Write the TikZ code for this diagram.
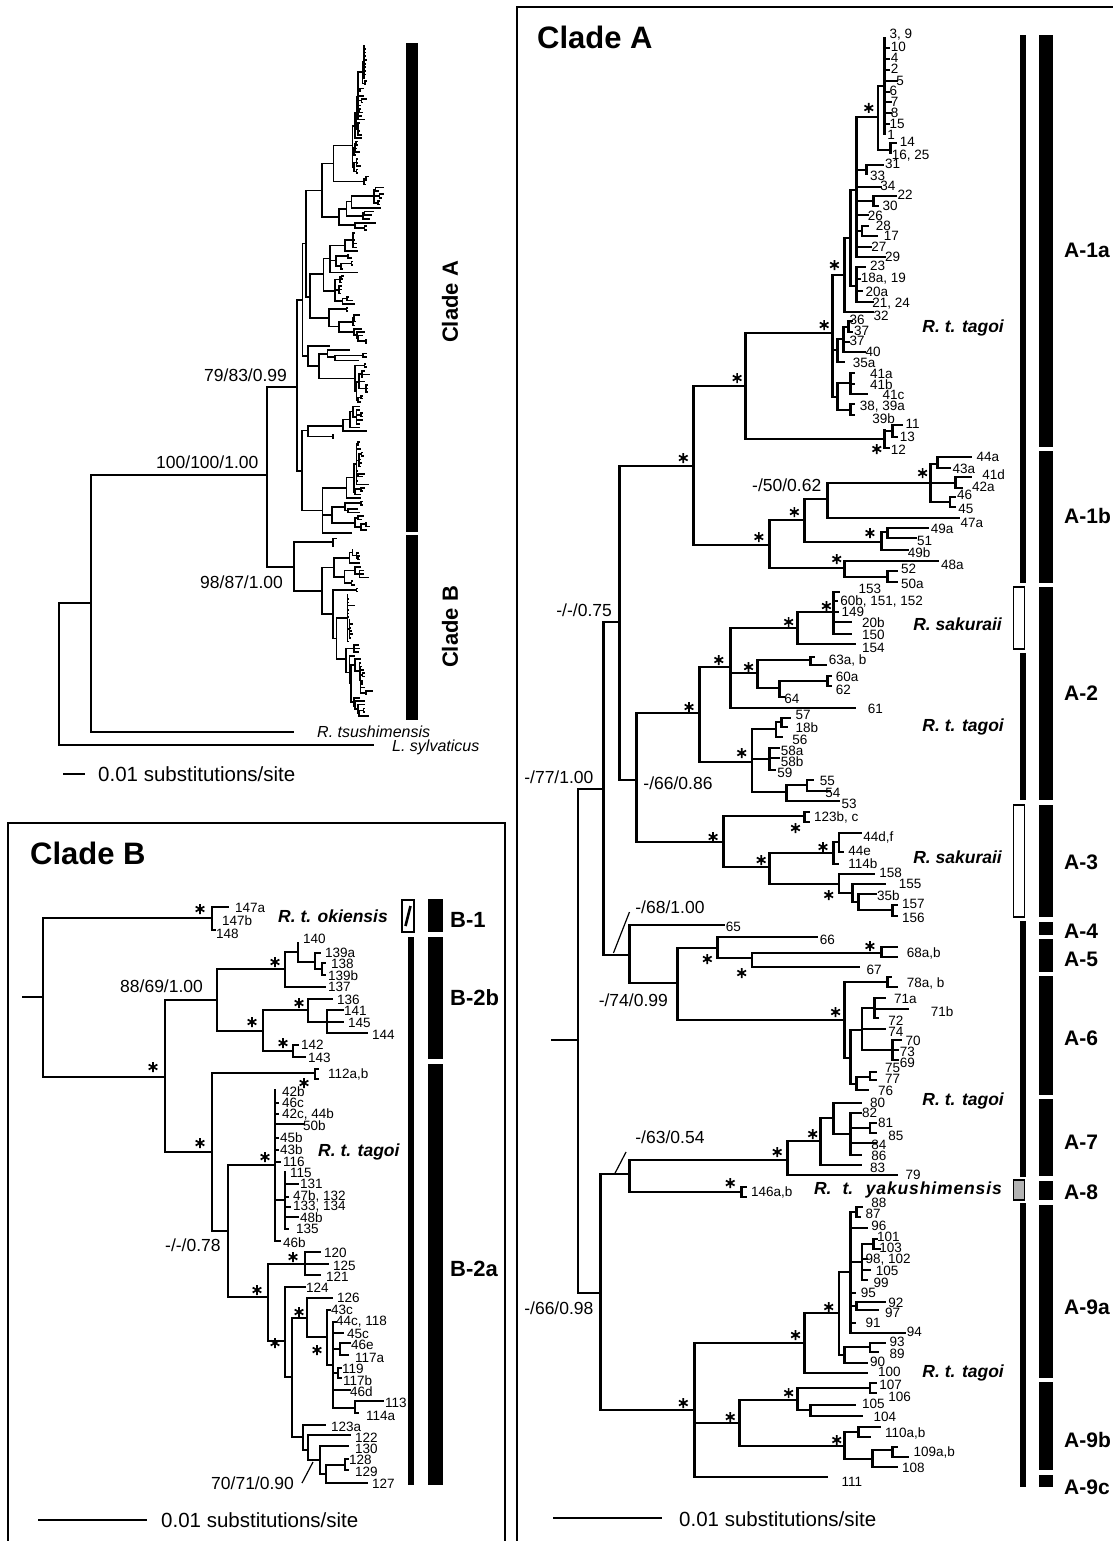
\documentclass[tikz,border=0pt]{standalone}
\usepackage{fontspec}
\setmainfont{Liberation Sans}
\newif\iflbl
\def\sx{1}\def\ox{0}\def\sy{1}\def\oy{0}\def\lw{2.8}
\tikzset{
 tr/.style={line width=\lw pt, line cap=rect},
 lf/.style={anchor=west, inner sep=0pt, font=\fontsize{13.5}{14}\selectfont},
 supp/.style={anchor=west, inner sep=0pt, font=\fontsize{17.5}{18}\selectfont},
 stl/.style={line width=1.7pt},
 spec/.style={font=\bfseries\itshape\fontsize{17.5}{18}\selectfont, inner sep=0pt},
 grp/.style={anchor=west, font=\bfseries\fontsize{21}{22}\selectfont, inner sep=0pt},
 ttl/.style={anchor=west, font=\bfseries\fontsize{31}{32}\selectfont, inner sep=0pt},
 sbar/.style={line width=2.8pt},
 stxt/.style={anchor=west, inner sep=0pt, font=\fontsize{20.5}{21}\selectfont},
 ov/.style={line width=1.6pt, line cap=rect},
 frame/.style={line width=2.5pt}
}
\newcommand\hb[3]{\draw[tr] ({\ox+\sx*(#1)},{\oy+\sy*(#3)}) -- ({\ox+\sx*(#2)},{\oy+\sy*(#3)});}
\newcommand\vb[3]{\draw[tr] ({\ox+\sx*(#1)},{\oy+\sy*(#2)}) -- ({\ox+\sx*(#1)},{\oy+\sy*(#3)});}
\newcommand\lb[3]{\iflbl\node[lf] at ({\ox+\sx*(#1)},{\oy+\sy*(#2)}) {#3};\fi}
\newcommand\su[3]{\iflbl\node[supp] at ({\ox+\sx*(#1)},{\oy+\sy*(#2)}) {#3};\fi}
\newcommand\sr[2]{\iflbl\draw[stl] ({\ox+\sx*(#1)},{\oy+\sy*(#2)}) +(0,-5) -- +(0,5) +(-4.33,-2.5) -- +(4.33,2.5) +(-4.33,2.5) -- +(4.33,-2.5);\fi}
\newcommand\ld[4]{\iflbl\draw[line width=1.2pt] ({\ox+\sx*(#1)},{\oy+\sy*(#2)}) -- ({\ox+\sx*(#3)},{\oy+\sy*(#4)});\fi}

\newcommand\TreeA{%
\iflbl\hb{548}{570}{1040}\fi
\vb{570}{789}{1293}\hb{570}{592}{789}\hb{570}{590}{1293}
\vb{592}{622}{955}\hb{592}{606}{622}\hb{592}{615}{955}
\vb{606}{466}{780}\hb{606}{671}{466}\hb{606}{621}{780}
\vb{671}{386}{545}\hb{671}{716}{386}\hb{671}{737}{545}
% A-1a
\vb{716}{333}{439}\hb{716}{792}{333}\hb{716}{838}{439}
\vb{838}{430}{448}\hb{838}{845}{431}\vb{845}{425}{437}\hb{845}{853}{425}\hb{845}{848}{437}\hb{838}{841}{448}
\lb{856}{424}{11}\lb{851}{437}{13}\lb{843}{450}{12}\sr{831}{449}
\vb{792}{275}{397}\hb{792}{803}{275}\hb{792}{797}{350}\hb{792}{797}{397}
\sr{785}{325}\sr{794}{265}
\vb{803}{238}{312}\hb{803}{808}{238}\hb{803}{827}{312}\lb{828}{316}{32}
\vb{808}{190}{286}\hb{808}{813}{190}\hb{808}{813}{286}
\vb{813}{117}{257}\hb{813}{832}{117}\sr{824}{108}
\vb{832}{86}{150}\hb{832}{838}{86}\hb{832}{843}{150}
\vb{838}{38}{134}
\hb{838}{841}{48}\hb{838}{841}{59}\hb{838}{841}{70}\hb{838}{848}{81}\hb{838}{841}{92}\hb{838}{843}{102}\hb{838}{843}{113}\hb{838}{841}{124}
\lb{842}{35}{3, 9}\lb{843}{47}{10}\lb{843}{58}{4}\lb{843}{69}{2}\lb{848}{81}{5}\lb{842}{91}{6}\lb{843}{102}{7}\lb{843}{113}{8}\lb{842}{124}{15}\lb{840}{135}{1}
\vb{843}{143}{153}\hb{843}{847}{143}\lb{851}{142}{14}\lb{844}{156}{16, 25}
\hb{813}{822}{170}\vb{822}{165}{174}\hb{822}{836}{165}\lb{838}{164}{31}\lb{825}{176}{33}
\hb{813}{834}{187}\lb{834}{186}{34}
\hb{813}{828}{201}\vb{828}{196}{206}\hb{828}{847}{196}\hb{828}{832}{206}\lb{849}{195}{22}\lb{836}{206}{30}
\hb{813}{823}{215}\lb{823}{216}{26}
\hb{813}{818}{231}\vb{818}{226}{236}\hb{818}{823}{226}\hb{818}{831}{236}\lb{830}{226}{28}\lb{837}{236}{17}
\hb{813}{826}{247}\lb{826}{247}{27}
\hb{813}{838}{257}\lb{838}{257}{29}
\vb{813}{267}{302}\hb{813}{820}{267}\hb{813}{816}{279}\hb{813}{818}{291}\hb{813}{827}{302}
\lb{825}{266}{23}\lb{817}{279}{18a, 19}\lb{821}{292}{20a}\lb{827}{304}{21, 24}
\vb{797}{339}{362}\hb{797}{802}{339}\hb{797}{802}{362}\lb{810}{363}{35a}
\vb{802}{327}{352}\hb{802}{806}{327}\hb{802}{806}{342}\hb{802}{820}{352}
\vb{806}{321}{332}\hb{806}{809}{321}\hb{806}{809}{332}
\lb{807}{320}{36}\lb{811}{331}{37}\lb{807}{341}{37}\lb{821}{352}{40}
\vb{797}{383}{410}
\vb{808}{373}{394}\hb{797}{808}{383}\hb{808}{811}{373}\hb{808}{811}{384}\hb{808}{822}{394}
\lb{825}{374}{41a}\lb{825}{385}{41b}\lb{836}{395}{41c}
\vb{808}{404}{415}\hb{797}{808}{410}\hb{808}{811}{404}\hb{808}{811}{415}
\lb{816}{407}{38, 39a}\lb{827}{419}{39b}
\sr{709}{378}\sr{662}{458}
% A-1b
\vb{737}{520}{568}\hb{737}{768}{520}\hb{737}{803}{568}
\vb{768}{499}{542}\hb{768}{788}{499}\hb{768}{835}{542}
\vb{788}{483}{518}\hb{788}{878}{483}\hb{788}{902}{518}\lb{904}{523}{47a}
\vb{878}{464}{502}\hb{878}{884}{464}\hb{878}{900}{483}\hb{878}{895}{502}
\vb{884}{457}{468}\hb{884}{913}{457}\hb{884}{895}{468}\lb{918}{457}{44a}\lb{897}{469}{43a}
\vb{900}{477}{488}\hb{900}{913}{477}\hb{900}{905}{488}\lb{923}{475}{41d}\lb{914}{487}{42a}
\vb{895}{497}{507}\hb{895}{899}{497}\hb{895}{899}{507}\lb{901}{495}{46}\lb{902}{509}{45}
\vb{835}{532}{550}\hb{835}{840}{532}\hb{835}{858}{550}\lb{858}{553}{49b}
\vb{840}{528}{538}\hb{840}{875}{528}\hb{840}{865}{538}\lb{878}{529}{49a}\lb{866}{541}{51}
\vb{803}{561}{577}\hb{803}{884}{561}\hb{803}{840}{577}\lb{887}{565}{48a}
\vb{840}{571}{582}\hb{840}{848}{571}\hb{840}{848}{582}\lb{852}{569}{52}\lb{852}{584}{50a}
\sr{871}{473}\sr{759}{512}\sr{728}{537}\sr{825}{533}\sr{796}{559}
% A-2
\vb{621}{713}{842}\hb{621}{676}{713}\hb{621}{697}{842}
\vb{676}{667}{762}\hb{676}{703}{667}\hb{676}{722}{762}
\vb{703}{628}{708}\hb{703}{762}{628}\hb{703}{727}{673}\hb{703}{812}{708}\lb{823}{709}{61}
\vb{762}{612}{644}\hb{762}{793}{612}\hb{762}{812}{644}\lb{818}{648}{154}
\vb{793}{592}{634}\hb{793}{798}{592}\hb{793}{796}{601}\hb{793}{797}{612}\hb{793}{808}{622}\hb{793}{808}{634}
\lb{815}{589}{153}\lb{799}{601}{60b, 151, 152}\lb{800}{612}{149}\lb{818}{623}{20b}\lb{818}{635}{150}
\vb{727}{660}{688}\hb{727}{773}{660}\hb{727}{746}{688}
\vb{773}{657}{665}\hb{773}{776}{657}\hb{773}{786}{665}\lb{789}{660}{63a, b}
\vb{746}{681}{697}\hb{746}{788}{681}\hb{746}{750}{697}\lb{750}{699}{64}
\vb{788}{676}{686}\hb{788}{791}{676}\hb{788}{791}{686}\lb{795}{677}{60a}\lb{795}{690}{62}
\vb{722}{729}{792}\hb{722}{743}{729}\hb{722}{737}{759}\hb{722}{752}{792}
\vb{743}{722}{737}\hb{743}{748}{722}\hb{743}{748}{737}
\vb{748}{718}{727}\hb{748}{755}{718}\hb{748}{752}{727}
\lb{760}{715}{57}\lb{760}{728}{18b}\lb{757}{740}{56}
\vb{737}{748}{770}\hb{737}{745}{748}\hb{737}{745}{758}\hb{737}{742}{770}
\lb{747}{751}{58a}\lb{747}{762}{58b}\lb{744}{773}{59}
\vb{752}{785}{801}\hb{752}{770}{785}\hb{752}{798}{801}
\vb{770}{780}{791}\hb{770}{775}{780}\hb{770}{790}{791}
\lb{781}{781}{55}\lb{786}{793}{54}\lb{800}{804}{53}
\sr{667}{707}\sr{693}{660}\sr{754}{622}\sr{787}{606}\sr{719}{667}\sr{713}{753}
% A-3
\vb{697}{816}{867}\hb{697}{768}{816}\hb{697}{737}{867}
\vb{768}{812}{822}\hb{768}{771}{812}\hb{768}{771}{822}\lb{776}{817}{123b, c}\sr{760}{828}
\vb{737}{853}{884}\hb{737}{793}{853}\hb{737}{798}{884}\sr{730}{860}\sr{688}{837}
\vb{793}{842}{864}\hb{793}{798}{842}\hb{793}{797}{864}\sr{784}{847}
\vb{798}{833}{852}\hb{798}{817}{833}\hb{798}{801}{852}
\lb{819}{837}{44d,f}\lb{806}{851}{44e}\lb{806}{864}{114b}
\vb{798}{874}{893}\hb{798}{828}{874}\hb{798}{810}{893}\sr{789}{895}
\vb{810}{884}{902}\hb{810}{838}{884}\hb{810}{815}{902}
\vb{815}{894}{910}\hb{815}{830}{894}\hb{815}{845}{910}
\vb{845}{905}{916}\hb{845}{848}{905}\hb{845}{848}{916}
\lb{833}{873}{158}\lb{850}{884}{155}\lb{831}{896}{35b}\lb{853}{904}{157}\lb{853}{918}{156}
% A-4..A-6
\vb{615}{925}{983}\hb{615}{697}{925}\hb{615}{657}{983}\lb{699}{927}{65}
\vb{657}{948}{1020}\hb{657}{692}{948}\hb{657}{803}{1020}
\vb{692}{937}{958}\hb{692}{778}{937}\hb{692}{722}{958}\lb{781}{940}{66}
\vb{722}{953}{967}\hb{722}{835}{953}\hb{722}{815}{967}\lb{822}{970}{67}
\vb{835}{947}{957}\hb{835}{848}{947}\hb{835}{848}{957}\lb{857}{953}{68a,b}
\sr{683}{959}\sr{713}{973}\sr{825}{946}
\vb{803}{982}{1058}\hb{803}{840}{982}\hb{803}{808}{1058}\sr{795}{1012}
\vb{840}{977}{987}\hb{840}{843}{977}\hb{840}{848}{987}\lb{857}{983}{78a, b}
\vb{808}{1030}{1084}\hb{808}{818}{1030}\hb{808}{813}{1084}
\vb{818}{1008}{1050}\hb{818}{829}{1008}\hb{818}{838}{1029}\hb{818}{845}{1050}
\vb{829}{998}{1018}\hb{829}{838}{998}\hb{829}{858}{1009}\hb{829}{832}{1018}
\lb{846}{999}{71a}\lb{878}{1012}{71b}\lb{841}{1021}{72}\lb{841}{1032}{74}
\vb{845}{1040}{1060}\hb{845}{852}{1040}\hb{845}{849}{1050}\hb{845}{849}{1060}
\lb{856}{1041}{70}\lb{851}{1052}{73}\lb{851}{1063}{69}
\vb{813}{1077}{1090}\hb{813}{825}{1077}\hb{813}{823}{1090}
\vb{825}{1072}{1080}\hb{825}{830}{1072}\hb{825}{830}{1080}
\lb{838}{1068}{75}\lb{838}{1079}{77}\lb{832}{1091}{76}
% A-7, A-8
\vb{590}{1174}{1410}\hb{590}{615}{1174}\hb{590}{672}{1410}
\vb{615}{1160}{1192}\hb{615}{753}{1160}\hb{615}{713}{1192}
\vb{713}{1187}{1197}\hb{713}{716}{1187}\hb{713}{716}{1197}\lb{721}{1192}{146a,b}\sr{703}{1183}
\vb{753}{1141}{1175}\hb{753}{782}{1141}\hb{753}{848}{1175}\lb{856}{1175}{79}\sr{744}{1152}
\vb{782}{1118}{1165}\hb{782}{793}{1118}\hb{782}{817}{1165}\lb{825}{1168}{83}\sr{775}{1134}
\vb{793}{1103}{1134}\hb{793}{817}{1103}\hb{793}{808}{1134}\lb{825}{1103}{80}
\vb{808}{1113}{1155}\hb{808}{817}{1113}\hb{808}{825}{1128}\hb{808}{830}{1143}\hb{808}{817}{1155}
\vb{825}{1123}{1133}\hb{825}{830}{1123}\hb{825}{830}{1133}
\lb{818}{1113}{82}\lb{832}{1123}{81}\lb{841}{1136}{85}\lb{826}{1145}{84}\lb{826}{1156}{86}
% A-9
\vb{672}{1343}{1477}\hb{672}{768}{1343}\hb{672}{711}{1423}\hb{672}{787}{1477}\lb{800}{1482}{111}\sr{662}{1403}
\vb{768}{1313}{1373}\hb{768}{798}{1313}\hb{768}{822}{1373}\lb{832}{1372}{100}\sr{760}{1335}
\vb{798}{1272}{1355}\hb{798}{808}{1272}\hb{798}{803}{1355}\sr{789}{1307}
\vb{808}{1212}{1333}
\hb{808}{813}{1212}\vb{813}{1207}{1217}\hb{813}{818}{1207}\hb{813}{816}{1217}
\lb{826}{1203}{88}\lb{821}{1214}{87}
\hb{808}{822}{1228}\lb{826}{1226}{96}
\hb{808}{818}{1262}\vb{818}{1244}{1280}\hb{818}{828}{1244}\vb{828}{1239}{1249}\hb{828}{831}{1239}\hb{828}{833}{1249}
\hb{818}{822}{1259}\hb{818}{825}{1270}\hb{818}{822}{1280}
\lb{831}{1237}{101}\lb{833}{1248}{103}\lb{821}{1260}{98, 102}\lb{830}{1271}{105}\lb{828}{1283}{99}
\hb{808}{812}{1293}\lb{817}{1293}{95}
\hb{808}{813}{1306}\vb{813}{1302}{1310}\hb{813}{838}{1302}\hb{813}{832}{1310}\lb{841}{1303}{92}\lb{838}{1313}{97}
\hb{808}{812}{1323}\lb{821}{1323}{91}
\hb{808}{855}{1333}\lb{857}{1332}{94}
\vb{803}{1347}{1363}\hb{803}{825}{1347}\hb{803}{822}{1363}\lb{825}{1362}{90}
\vb{825}{1343}{1352}\hb{825}{838}{1343}\hb{825}{832}{1352}\lb{842}{1342}{93}\lb{842}{1354}{89}
\vb{711}{1400}{1446}\hb{711}{762}{1400}\hb{711}{803}{1446}\sr{703}{1417}
\vb{762}{1388}{1410}\hb{762}{825}{1388}\hb{762}{773}{1410}\sr{754}{1393}
\vb{825}{1383}{1393}\hb{825}{830}{1383}\hb{825}{830}{1393}\lb{833}{1385}{107}\lb{841}{1397}{106}
\vb{773}{1405}{1416}\hb{773}{812}{1405}\hb{773}{818}{1416}\lb{818}{1404}{105}\lb{828}{1417}{104}
\vb{803}{1432}{1459}\hb{803}{815}{1432}\hb{803}{827}{1459}\sr{796}{1440}
\vb{815}{1427}{1437}\hb{815}{833}{1427}\hb{815}{825}{1437}\lb{838}{1433}{110a,b}
\vb{827}{1450}{1467}\hb{827}{845}{1450}\hb{827}{848}{1467}\lb{853}{1468}{108}
\vb{845}{1447}{1457}\hb{845}{848}{1447}\hb{845}{858}{1457}\lb{863}{1452}{109a,b}
% support values
\su{551}{610}{-/-/0.75}\su{523}{777}{-/77/1.00}\su{523}{1308}{-/66/0.98}\su{627}{783}{-/66/0.86}
\su{588}{1000}{-/74/0.99}\su{722}{485}{-/50/0.62}\su{620}{907}{-/68/1.00}\su{620}{1137}{-/63/0.54}
\ld{601}{953}{615}{912}\ld{602}{1174}{612}{1152}
}

\newcommand\TreeB{%
\iflbl\hb{23}{43}{997}\fi
\vb{43}{918}{1077}\hb{43}{212}{918}\hb{43}{165}{1077}
\vb{212}{907}{930}\hb{212}{228}{907}\hb{212}{215}{930}
\lb{235}{908}{147a}\lb{222}{921}{147b}\lb{216}{934}{148}\sr{200}{909}
\vb{165}{1000}{1152}\hb{165}{217}{1000}\hb{165}{212}{1152}\sr{153}{1067}
\vb{217}{969}{1031}\hb{217}{285}{969}\hb{217}{263}{1031}
\vb{285}{952}{987}\hb{285}{298}{952}\hb{285}{325}{987}\sr{275}{962}\lb{328}{987}{137}
\vb{298}{943}{962}\hb{298}{315}{962}\lb{303}{939}{140}
\vb{315}{953}{969}\hb{315}{320}{953}\hb{315}{322}{969}\vb{322}{963}{975}\hb{322}{325}{963}\hb{322}{325}{975}
\lb{325}{953}{139a}\lb{331}{964}{138}\lb{328}{976}{139b}
\vb{263}{1010}{1051}\hb{263}{308}{1010}\hb{263}{293}{1051}\sr{252}{1022}
\vb{308}{999}{1022}\hb{308}{332}{999}\hb{308}{327}{1022}\sr{299}{1003}\lb{337}{1000}{136}
\vb{327}{1010}{1033}\hb{327}{343}{1010}\hb{327}{343}{1022}\hb{327}{367}{1033}
\lb{344}{1011}{141}\lb{348}{1023}{145}\lb{372}{1035}{144}
\vb{293}{1045}{1057}\hb{293}{298}{1045}\hb{293}{305}{1057}\sr{283}{1043}\lb{301}{1045}{142}\lb{308}{1058}{143}
\vb{212}{1073}{1231}\hb{212}{315}{1073}\hb{212}{228}{1231}\sr{200}{1143}
\vb{315}{1069}{1079}\hb{315}{318}{1069}\hb{315}{318}{1079}\lb{328}{1074}{112a,b}\sr{304}{1083}
\vb{228}{1165}{1297}\hb{228}{275}{1165}\hb{228}{268}{1297}
\vb{275}{1090}{1241}\sr{265}{1157}
\hb{275}{278}{1103}\hb{275}{278}{1114}\hb{275}{303}{1124}\hb{275}{278}{1138}\hb{275}{278}{1150}\hb{275}{280}{1162}\hb{275}{285}{1200}\hb{275}{280}{1241}
\vb{285}{1172}{1229}\hb{285}{298}{1184}\hb{285}{288}{1197}\hb{285}{290}{1207}\hb{285}{298}{1217}\hb{285}{288}{1229}
\lb{282}{1092}{42b}\lb{282}{1103}{46c}\lb{282}{1114}{42c, 44b}\lb{303}{1126}{50b}\lb{280}{1138}{45b}\lb{280}{1150}{43b}\lb{283}{1162}{116}
\lb{290}{1173}{115}\lb{300}{1184}{131}\lb{293}{1196}{47b, 132}\lb{293}{1207}{133, 134}\lb{300}{1218}{48b}\lb{296}{1229}{135}\lb{283}{1243}{46b}
\vb{268}{1264}{1341}\hb{268}{305}{1264}\hb{268}{285}{1341}\sr{257}{1290}
\vb{305}{1252}{1275}\hb{305}{320}{1252}\hb{305}{328}{1264}\hb{305}{320}{1275}\sr{293}{1257}
\lb{324}{1253}{120}\lb{333}{1266}{125}\lb{326}{1277}{121}
\vb{285}{1287}{1377}\hb{285}{305}{1287}\hb{285}{292}{1377}\sr{275}{1343}\lb{306}{1288}{124}
\vb{292}{1318}{1437}\hb{292}{307}{1318}\hb{292}{303}{1437}
\vb{307}{1298}{1337}\hb{307}{332}{1298}\hb{307}{327}{1337}\sr{299}{1312}\lb{337}{1298}{126}
\vb{327}{1310}{1365}\hb{327}{330}{1310}\hb{327}{333}{1365}\sr{317}{1350}\lb{331}{1310}{43c}
\vb{333}{1322}{1408}\hb{333}{336}{1322}\hb{333}{343}{1333}\hb{333}{340}{1349}\hb{333}{338}{1373}\hb{333}{350}{1390}\hb{333}{355}{1408}
\lb{336}{1322}{44c, 118}\lb{347}{1334}{45c}
\vb{340}{1343}{1355}\hb{340}{350}{1343}\hb{340}{348}{1355}\lb{351}{1345}{46e}\lb{355}{1358}{117a}
\vb{338}{1368}{1378}\hb{338}{341}{1368}\hb{338}{341}{1378}\lb{342}{1369}{119}\lb{343}{1381}{117b}
\lb{350}{1392}{46d}
\vb{355}{1401}{1413}\hb{355}{383}{1401}\hb{355}{358}{1413}\lb{385}{1403}{113}\lb{366}{1416}{114a}
\vb{303}{1425}{1450}\hb{303}{325}{1425}\hb{303}{308}{1450}\lb{331}{1427}{123a}
\vb{308}{1435}{1460}\hb{308}{350}{1435}\hb{308}{320}{1460}\lb{355}{1438}{122}
\vb{320}{1446}{1474}\hb{320}{348}{1446}\hb{320}{326}{1474}\lb{355}{1449}{130}
\vb{326}{1465}{1483}\hb{326}{345}{1465}\hb{326}{367}{1483}\lb{372}{1484}{127}
\vb{345}{1459}{1470}\hb{345}{348}{1459}\hb{345}{348}{1470}\lb{349}{1460}{128}\lb{355}{1472}{129}
\su{120}{986}{88/69/1.00}\su{165}{1245}{-/-/0.78}\su{211}{1483}{70/71/0.90}
\ld{302}{1483}{313}{1462}
}

\begin{document}
\begin{tikzpicture}[x=1pt,y=-1pt]
\useasboundingbox (0,0) rectangle (1112,1541);
\fill[white] (0,0) rectangle (1112,1541);

% ---------- overview ----------
\lblfalse
\def\lw{1.6}
\def\sx{0.25}\def\ox{154.5}\def\sy{0.339}\def\oy{32.53}\TreeA
\def\sx{0.23}\def\ox{284.1}\def\sy{0.308}\def\oy{259.3}\TreeB
\draw[ov] (59,603) -- (59,745);
\draw[ov] (59,603) -- (91,603);
\draw[ov] (59,745) -- (373,745);
\draw[ov] (91,475) -- (91,732);
\draw[ov] (91,732) -- (293,732);
\draw[ov] (91,475) -- (267,475);
\draw[ov] (267,387) -- (267,567);
\draw[ov] (267,387) -- (297,387);
\draw[ov] (267,567) -- (294,567);
\fill (406,43) rectangle (418,532);
\fill (406,535) rectangle (418,720);
\node[rotate=90, font=\bfseries\fontsize{22}{22}\selectfont] (ovA) at (450,302) {Clade A};
\node[rotate=90, font=\bfseries\fontsize{22}{22}\selectfont] (ovB) at (450,627) {Clade B};
\node[supp] (s1) at (204,375) {79/83/0.99};
\node[supp] (s2) at (156,462) {100/100/1.00};
\node[supp] (s3) at (200,582) {98/87/1.00};
\node[anchor=west, inner sep=0pt, font=\itshape\fontsize{16}{17}\selectfont] (rts) at (317,732) {R. tsushimensis};
\node[anchor=west, inner sep=0pt, font=\itshape\fontsize{16}{17}\selectfont] (lsy) at (392,747) {L. sylvaticus};
\draw[line width=1.6pt] (63,774) -- (85,774);
\node[stxt] (ovsc) at (98,774) {0.01 substitutions/site};

% ---------- Clade B panel ----------
\draw[frame] (8,1545) -- (8,823) -- (505,823) -- (505,1545);
\node[ttl] (tB) at (30,853) {Clade B};
\lbltrue
\def\lw{2.8}
\def\sx{1}\def\ox{0}\def\sy{1}\def\oy{0}\TreeB
\node[spec, anchor=west] (okien) at (278,916) {R. t. okiensis};
\node[spec, anchor=west] (tagB) at (318,1152) {R. t. tagoi};
\draw[fill=white, line width=1.2pt] (402,900) rectangle (414,932);
\draw[line width=2.6pt] (405.5,926) -- (410.5,906);
\fill (408,937) rectangle (414,1485);
\fill (428,899) rectangle (443,932);
\fill (428,937) rectangle (443,1059);
\fill (428,1064) rectangle (443,1485);
\node[grp, font=\bfseries\fontsize{22}{23}\selectfont] (gB1) at (450,920) {B-1};
\node[grp, font=\bfseries\fontsize{22}{23}\selectfont] (gB2b) at (450,998) {B-2b};
\node[grp, font=\bfseries\fontsize{22}{23}\selectfont] (gB2a) at (450,1269) {B-2a};
\draw[sbar] (38,1520) -- (147,1520);
\node[stxt] (scB) at (161,1520) {0.01 substitutions/site};

% ---------- Clade A panel ----------
\draw[frame] (517,1545) -- (517,7) -- (1115,7);
\node[ttl] (tA) at (537,37) {Clade A};
\def\sx{1.145}\def\ox{-74.7}\def\sy{1}\def\oy{0}\TreeA
\node[spec, anchor=east] (tg1) at (1004,328) {R. t. tagoi};
\node[spec, anchor=east] (sk1) at (1002,624) {R. sakuraii};
\node[spec, anchor=east] (tg2) at (1004,727) {R. t. tagoi};
\node[spec, anchor=east] (sk2) at (1002,857) {R. sakuraii};
\node[spec, anchor=east] (tg3) at (1004,1101) {R. t. tagoi};
\node[spec, anchor=east] (yak) at (1002,1190) {R.\hspace{0.35em} t.\hspace{0.35em} y\hspace{0.05em}a\hspace{0.05em}k\hspace{0.05em}u\hspace{0.05em}s\hspace{0.05em}h\hspace{0.05em}i\hspace{0.05em}m\hspace{0.05em}e\hspace{0.05em}n\hspace{0.05em}s\hspace{0.05em}i\hspace{0.05em}s};
\node[spec, anchor=east] (tg4) at (1004,1373) {R. t. tagoi};
% thin bars
\fill (1020,35) rectangle (1025.5,583);
\draw[fill=white, line width=1.2pt] (1013.5,587) rectangle (1024.5,649);
\fill (1020,653) rectangle (1025.5,800);
\draw[fill=white, line width=1.2pt] (1013.5,805) rectangle (1024.5,917);
\fill (1020,921) rectangle (1025.5,1177);
\draw[fill=black!30, line width=1.2pt] (1013.5,1180) rectangle (1024.5,1200);
\fill (1020,1203) rectangle (1025.5,1487);
% thick bars
\foreach \a/\b in {35/447,451/583,587/800,805/917,922/935,939/972,976/1095,1099/1176,1181/1200,1205/1378,1382/1470,1475/1487}
  \fill (1039,\a) rectangle (1053,\b);
\node[grp] (g1a) at (1064,250) {A-1a};
\node[grp] (g1b) at (1064,516) {A-1b};
\node[grp] (g2) at (1064,693) {A-2};
\node[grp] (g3) at (1064,862) {A-3};
\node[grp] (g4) at (1064,931) {A-4};
\node[grp] (g5) at (1064,959) {A-5};
\node[grp] (g6) at (1064,1038) {A-6};
\node[grp] (g7) at (1064,1142) {A-7};
\node[grp] (g8) at (1064,1192) {A-8};
\node[grp] (g9a) at (1064,1307) {A-9a};
\node[grp] (g9b) at (1064,1440) {A-9b};
\node[grp] (g9c) at (1064,1487) {A-9c};
\draw[sbar] (553,1518) -- (662,1518);
\node[stxt] (scA) at (679,1519) {0.01 substitutions/site};
\end{tikzpicture}
\end{document}
